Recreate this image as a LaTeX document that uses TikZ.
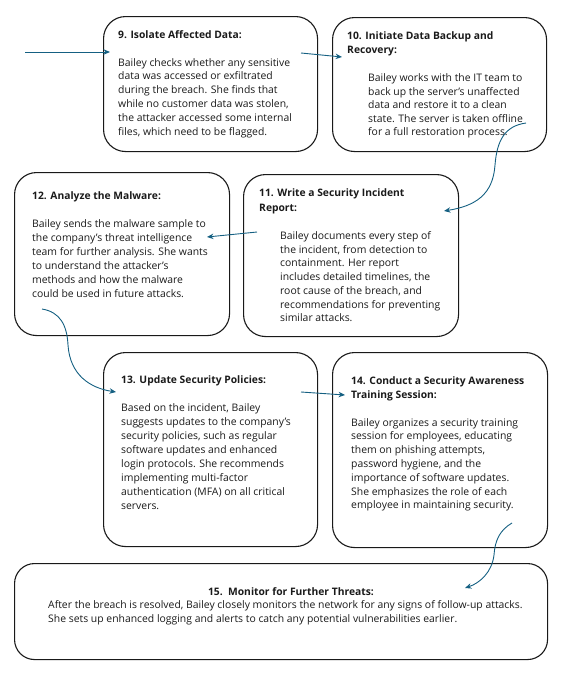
\documentclass[tikz,border=0pt]{standalone}
\usepackage{fontspec}
\setmainfont{Open Sans}
\usetikzlibrary{arrows.meta}
\definecolor{arr}{HTML}{156082}
\definecolor{txt}{HTML}{1A1A1A}
\tikzset{
  card/.style={draw=black!90, line width=1.1pt, rounded corners=22pt, anchor=north west, inner sep=0pt, minimum width=214pt},
  ttl/.style={anchor=north west, inner sep=0pt, align=left, text=txt, font=\fontsize{10.3}{14}\selectfont\bfseries},
  bodytext/.style={anchor=north west, inner sep=0pt, align=left, text=txt, font=\fontsize{10.4}{#1}\selectfont},
  bodytext/.default=13.8,
  flow/.style={draw=arr, line width=0.9pt, -{Stealth[length=6.5pt,width=5.5pt]}}
}
\begin{document}
\begin{tikzpicture}[x=1pt,y=-1pt]
\useasboundingbox (0,0) rectangle (572,688);
% boxes
\node[card, minimum height=135pt] (n9) at (103,16) {};
\node[card, minimum height=134pt] (n10) at (332,17) {};
\node[card, minimum height=163pt, minimum width=215pt] (n12) at (14,172) {};
\node[card, minimum height=162pt, minimum width=215pt] (n11) at (243,174) {};
\node[card, minimum height=194pt] (n13) at (103,352) {};
\node[card, minimum height=195pt, minimum width=215pt] (n14) at (332,352) {};
\node[card, minimum height=96pt, minimum width=533pt, rounded corners=20pt] (n15) at (14,563) {};
% texts
\node[ttl] (t9) at (118,28.7) {\strut 9. Isolate Affected Data:};
\node[bodytext] (b9) at (118,56.3) {\strut Bailey checks whether any sensitive\\data was accessed or exfiltrated\\during the breach. She finds that\\while no customer data was stolen,\\the attacker accessed some internal\\files, which need to be flagged.};
\node[ttl] (t10) at (347,29.7) {\strut 10. Initiate Data Backup and\\Recovery:};
\node[bodytext=13.6] (b10) at (368,71.8) {\strut Bailey works with the IT team to\\back up the server's unaffected\\data and restore it to a clean\\state. The server is taken offline\\for a full restoration process.};
\node[ttl] (t12) at (32,189.7) {\strut 12. Analyze the Malware:};
\node[bodytext=14] (b12) at (32,217.3) {\strut Bailey sends the malware sample to\\the company’s threat intelligence\\team for further analysis. She wants\\to understand the attacker’s\\methods and how the malware\\could be used in future attacks.};
\node[ttl, font=\fontsize{10.3}{14.5}\selectfont\bfseries] (t11) at (259,186.3) {\strut 11. Write a Security Incident\\Report:};
\node[bodytext=13.7] (b11) at (280,229.8) {\strut Bailey documents every step of\\the incident, from detection to\\containment. Her report\\includes detailed timelines, the\\root cause of the breach, and\\recommendations for preventing\\similar attacks.};
\node[ttl] (t13) at (121,373.7) {\strut 13. Update Security Policies:};
\node[bodytext=14] (b13) at (121,401.3) {\strut Based on the incident, Bailey\\suggests updates to the company’s\\security policies, such as regular\\software updates and enhanced\\login protocols. She recommends\\implementing multi-factor\\authentication (MFA) on all critical\\servers.};
\node[ttl] (t14) at (351,374.7) {\strut 14. Conduct a Security Awareness\\Training Session:};
\node[bodytext=13.8] (b14) at (351,416.3) {\strut Bailey organizes a security training\\session for employees, educating\\them on phishing attempts,\\password hygiene, and the\\importance of software updates.\\She emphasizes the role of each\\employee in maintaining security.};
\node[ttl, anchor=base] (t15) at (291,595.5) {15.\ \ Monitor for Further Threats:};
\node[bodytext=13.4] (b15) at (48,599.3) {\strut After the breach is resolved, Bailey closely monitors the network for any signs of follow-up attacks.\\She sets up enhanced logging and alerts to catch any potential vulnerabilities earlier.};
% connector points
\coordinate (s0) at (25,52);
\coordinate (e9) at (110,52);
\coordinate (s9) at (301,53);
\coordinate (e10) at (342,57);
\coordinate (s10) at (526,123);
\coordinate (e11) at (444,211);
\coordinate (s11) at (257,232);
\coordinate (e12) at (207,237);
\coordinate (s12) at (42,309);
\coordinate (e13) at (116,392);
\coordinate (s13) at (301,392);
\coordinate (e14) at (345,395);
\coordinate (s14) at (512,523);
\coordinate (e15) at (465,588);
% connectors
\draw[flow] (s0) -- (e9);
\draw[flow] (s9) -- (e10);
\draw[flow] (s10) .. controls (505,126) and (497,140) .. (495,165) .. controls (493,195) and (475,206) .. (e11);
\draw[flow] (s11) -- (e12);
\draw[flow] (s12) .. controls (60,312) and (67,325) .. (68,345) .. controls (70,375) and (90,388) .. (e13);
\draw[flow] (s13) -- (e14);
\draw[flow] (s14) .. controls (500,530) and (495,540) .. (494,555) .. controls (492,572) and (480,583) .. (e15);
\end{tikzpicture}
\end{document}
